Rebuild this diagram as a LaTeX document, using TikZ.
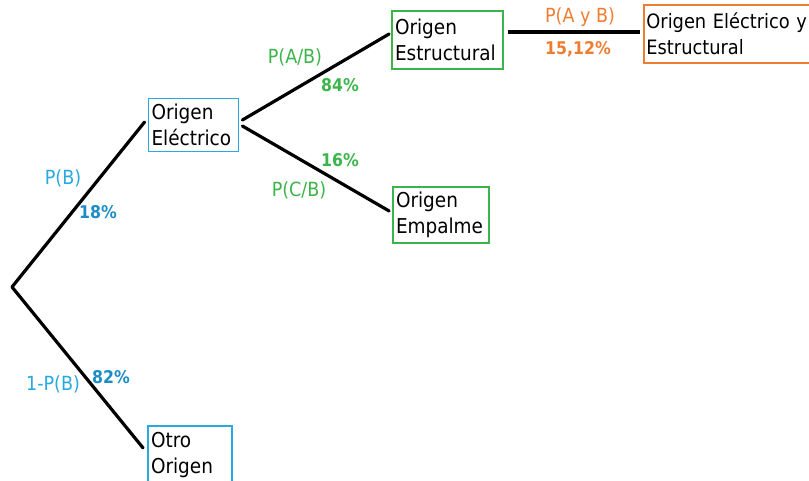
\documentclass[tikz,border=0pt]{standalone}
\usepackage{fontspec}
\setmainfont{DejaVu Sans Condensed}
\definecolor{cblue}{HTML}{29A9E1}
\definecolor{cdblue}{HTML}{1B8CC8}
\definecolor{cgreen}{HTML}{3BB44A}
\definecolor{corange}{HTML}{EE7D31}
\tikzset{
  box/.style={draw=#1, line width=1.8pt, rectangle, inner sep=0pt, align=left, font=\fontsize{20.5}{26}\selectfont, text=black},
  conn/.style={line width=3.2pt, black, line cap=round},
  lab/.style={text=#1, font=\fontsize{19.5}{22}\selectfont, inner sep=0pt},
  pct/.style={text=#1, font=\bfseries\fontsize{17.5}{20}\selectfont, inner sep=0pt}
}
\begin{document}
\begin{tikzpicture}[x=1pt,y=-1pt]
\useasboundingbox (0,0) rectangle (809,481);
\coordinate (root) at (12,287);
\node[box=cblue, minimum width=90pt, minimum height=53pt, text width=84pt] (elec) at (193.5,125) {Origen\\Eléctrico};
\node[box=cblue, minimum width=84pt, minimum height=58pt, text width=78pt] (otro) at (190,455) {Otro\\Origen};
\node[box=cgreen, minimum width=111pt, minimum height=58pt, text width=105pt] (estr) at (447.5,40) {Origen\\Estructural};
\node[box=cgreen, minimum width=96pt, minimum height=56pt, text width=90pt] (emp) at (441,215) {Origen\\Empalme};
\node[box=corange, minimum height=58pt, inner xsep=2.5pt, text width=190pt, anchor=west, font=\fontsize{19.8}{26}\selectfont] (ambos) at (643,34) {Origen Eléctrico y\\Estructural};

\draw[conn] (root) -- ([shift={(-3,-3)}]elec.west);
\draw[conn] (root) -- ([shift={(-4,-7)}]otro.west);
\draw[conn] ([shift={(3,-5)}]elec.east) -- ([shift={(-2,-6)}]estr.west);
\draw[conn] ([shift={(3,1)}]elec.east) -- ([shift={(-3,-4)}]emp.west);
\draw[conn, line cap=butt] ([shift={(4,-8)}]estr.east) -- ([shift={(-3,-2)}]ambos.west);

\node[lab=cblue] (lpb) at (63,178) {P(B)};
\node[pct=cdblue] (p18) at (98,212) {18\%};
\node[lab=cblue] (lnpb) at (53,384) {1-P(B)};
\node[pct=cdblue] (p82) at (111,377) {82\%};
\node[lab=cgreen] (lab1) at (295,57) {P(A/B)};
\node[pct=cgreen] (p84) at (340,85) {84\%};
\node[pct=cgreen] (p16) at (340,160) {16\%};
\node[lab=cgreen] (lcb) at (299,190) {P(C/B)};
\node[lab=corange] (lay) at (580,17) {P(A y B)};
\node[pct=corange] (p15) at (578,49) {15,12\%};
\end{tikzpicture}
\end{document}
